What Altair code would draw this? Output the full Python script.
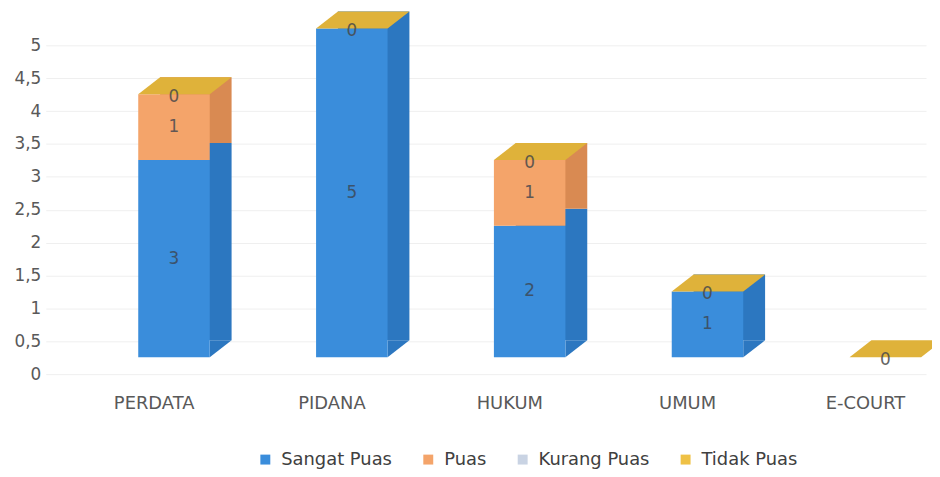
import altair as alt
import pandas as pd

categories = ["PERDATA", "PIDANA", "HUKUM", "UMUM", "E-COURT"]
series_names = ["Sangat Puas", "Puas", "Kurang Puas", "Tidak Puas"]
sangat_puas = [3, 5, 2, 1, 0]
puas = [1, 0, 1, 0, 0]
kurang_puas = [0, 0, 0, 0, 0]
tidak_puas = [0, 0, 0, 0, 0]
y_ticks = [0, 0.5, 1, 1.5, 2, 2.5, 3, 3.5, 4, 4.5, 5]

front_colors = ["#3a8ddb", "#f4a46a", "#c9d3e3", "#efc145"]
side_colors = ["#2c77c0", "#d98a52", "#a9b4c4", "#c99c2c"]
top_color = "#dfb23a"

rows = []
for si, (name, vals) in enumerate(zip(series_names, [sangat_puas, puas, kurang_puas, tidak_puas])):
    for c, v in zip(categories, vals):
        rows.append({"category": c, "series": name, "value": v, "ord": si})
df = pd.DataFrame(rows)

FONT = "DejaVu Sans"
x_enc = alt.X(
    "category:N", sort=categories, title=None,
    scale=alt.Scale(paddingInner=0.598, paddingOuter=0.274, align=0.949),
    axis=alt.Axis(labelAngle=0, domain=False, ticks=False, labelFontSize=18,
                  labelColor="#595959", labelPadding=21, labelOffset=-20,
                  labelFont=FONT, grid=False),
)
y_scale = alt.Scale(domain=[0, 5.5], nice=False, zero=True)
y_axis = alt.Axis(values=y_ticks, labelExpr="replace(format(datum.value, '~g'), '.', ',')",
                  domain=False, ticks=False, labelFontSize=17, labelColor="#595959",
                  labelPadding=5, labelFont=FONT, gridColor="#efefef", title=None)

base = alt.Chart(df)

back = base.mark_bar(xOffset=22, x2Offset=22, yOffset=-34, y2Offset=-34).encode(
    x=x_enc,
    y=alt.Y("value:Q", stack="zero", scale=y_scale, axis=y_axis),
    color=alt.Color("series:N", scale=alt.Scale(domain=series_names, range=side_colors), legend=None),
    order=alt.Order("ord:Q"),
)

bottom_tri = base.transform_filter(
    (alt.datum.series == "Sangat Puas") & (alt.datum.value > 0)
).transform_calculate(zero="0").mark_point(
    shape="M 0 0 L 1 0 L 0 0.773 Z", filled=True, size=1936, opacity=1, strokeWidth=0,
    xOffset=36, yOffset=-34,
).encode(x=x_enc, y=alt.Y("zero:Q", scale=y_scale, axis=y_axis), color=alt.value(side_colors[0]))

front = base.mark_bar(yOffset=-17, y2Offset=-17).encode(
    x=x_enc,
    y=alt.Y("value:Q", stack="zero", scale=y_scale, axis=y_axis),
    color=alt.Color(
        "series:N", scale=alt.Scale(domain=series_names, range=front_colors),
        legend=alt.Legend(title=None, orient="none", legendX=212, legendY=441,
                          direction="horizontal", symbolType="square", symbolSize=100,
                          labelFontSize=18, labelColor="#404040", labelFont=FONT,
                          columnPadding=27, labelOffset=7, symbolStrokeWidth=0),
    ),
    order=alt.Order("ord:Q"),
)

totals = base.transform_joinaggregate(total="sum(value)", groupby=["category"]).transform_filter(
    alt.datum.series == "Tidak Puas")

top_face = totals.mark_point(
    shape="M -1 0.181 L 0.532 0.181 L 1 -0.181 L -0.532 -0.181 Z",
    filled=True, size=8836, opacity=1, strokeWidth=0, xOffset=11, yOffset=-25.5,
).encode(x=x_enc, y=alt.Y("total:Q", scale=y_scale, axis=y_axis), color=alt.value(top_color))

top_label = totals.mark_text(fontSize=17, font=FONT, baseline="middle", yOffset=-14,
                             color="#4a4a4a", opacity=0.85).encode(
    x=x_enc, y=alt.Y("total:Q", scale=y_scale, axis=y_axis), text=alt.Text("value:Q"))

seg = base.transform_stack(
    stack="value", groupby=["category"], as_=["y0", "y1"],
    sort=[alt.SortField("ord", order="ascending")],
).transform_calculate(mid="(datum.y0 + datum.y1) / 2").transform_filter(alt.datum.value > 0)

seg_label = seg.mark_text(fontSize=17, font=FONT, baseline="middle", yOffset=-17,
                          color="#3d4550", opacity=0.8).encode(
    x=x_enc, y=alt.Y("mid:Q", scale=y_scale, axis=y_axis), text=alt.Text("value:Q"))

chart = alt.layer(back, bottom_tri, front, top_face, seg_label, top_label).resolve_scale(
    color="independent").properties(
    width=886, height=364,
    background="white",
    autosize=alt.AutoSizeParams(type="none"),
    padding={"left": 38, "top": 3, "right": 6, "bottom": 100},
).configure_view(stroke="transparent", strokeWidth=0)

chart.save("out.html", embed_options={"renderer": "svg", "actions": False})
